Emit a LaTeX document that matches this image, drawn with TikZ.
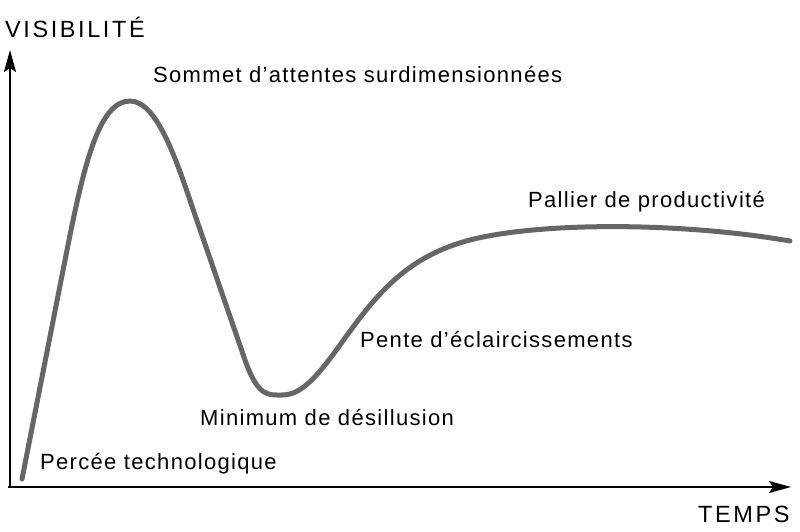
\documentclass[tikz,border=0pt]{standalone}
\usepackage{fontspec}
\setmainfont{Liberation Sans}
\newfontfamily\labelfont[LetterSpace=6]{Liberation Sans}
\newfontfamily\axisfont[LetterSpace=11]{Liberation Sans}
\usetikzlibrary{arrows.meta}
\tikzset{
  phase/.style={anchor=base west,inner sep=0pt,font=\labelfont\fontsize{22}{26}\selectfont},
  axislabel/.style={anchor=base west,inner sep=0pt,font=\axisfont\fontsize{23.5}{27}\selectfont},
  axis/.style={line width=2.2pt,-{Stealth[length=22pt,width=12pt,inset=4pt]}},
  hype/.style={line width=5pt,line cap=round,line join=round,color=black!60}
}
\begin{document}
\begin{tikzpicture}[x=1pt,y=-1pt]
  \useasboundingbox (0,0) rectangle (800,532);
  % axes
  \coordinate (O) at (10,487);
  \coordinate (Ytip) at (10,50);
  \coordinate (Xtip) at (791,487);
  \draw[axis] (O)++(0,1) -- (Ytip);
  \draw[axis] (O)++(-2,0) -- (Xtip);
  % courbe
  \draw[hype] (22,479) -- (68,245)
    .. controls (85,160) and (100,101) .. (130,101)
    .. controls (158,101) and (178,165) .. (195,215)
    -- (245,360)
    .. controls (258,397) and (268,395) .. (282,395)
    .. controls (300,395) and (315,380) .. (340,345)
    .. controls (375,296) and (405,257) .. (470,240)
    .. controls (540,222) and (680,222) .. (790,241);
  % textes
  \path
    (5,38) node[axislabel] (visib) {VISIBILITÉ}
    (698,522) node[axislabel] (temps) {TEMPS}
    (153,83) node[phase] (sommet) {Sommet d’attentes surdimensionnées}
    (528,207) node[phase] (pallier) {Pallier de productivité}
    (360,347) node[phase] (pente) {Pente d’éclaircissements}
    (200,425) node[phase] (minimum) {Minimum de désillusion}
    (40,469) node[phase] (percee) {Percée technologique}
    ;
\end{tikzpicture}
\end{document}
